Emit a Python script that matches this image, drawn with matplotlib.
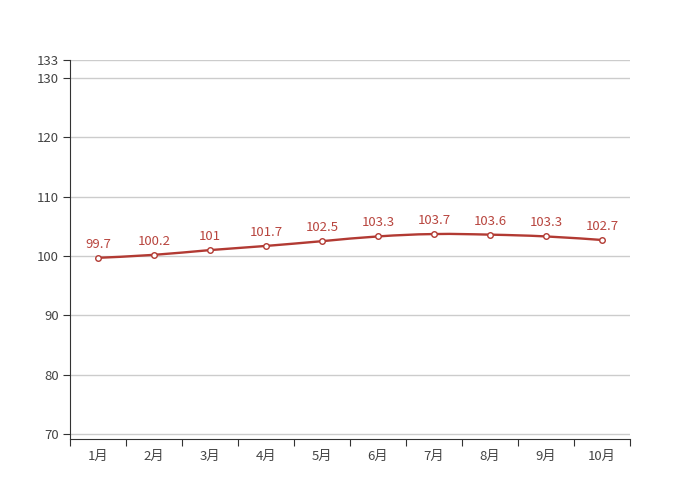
import matplotlib
matplotlib.use('Agg')
import matplotlib.pyplot as plt
from matplotlib.path import Path
from matplotlib.patches import PathPatch

plt.rcParams['font.family'] = ['Noto Sans CJK SC', 'DejaVu Sans']

months = ['1月', '2月', '3月', '4月', '5月', '6月', '7月', '8月', '9月', '10月']
values = [99.7, 100.2, 101, 101.7, 102.5, 103.3, 103.7, 103.6, 103.3, 102.7]
y_ticks = [70, 80, 90, 100, 110, 120, 130, 133]

line_color = '#b23a33'

fig = plt.figure(figsize=(7, 5), dpi=100)
ax = fig.add_axes([0.1, 0.122, 0.8, 0.758])

xs = list(range(len(values)))

# smooth line through the points with cubic bezier segments
verts = [(xs[0], values[0])]
codes = [Path.MOVETO]
k = 0.2
for i in range(len(values) - 1):
    p0 = (xs[max(i - 1, 0)], values[max(i - 1, 0)])
    p1 = (xs[i], values[i])
    p2 = (xs[i + 1], values[i + 1])
    p3 = (xs[min(i + 2, len(values) - 1)], values[min(i + 2, len(values) - 1)])
    c1 = (p1[0] + (p2[0] - p0[0]) * k, p1[1] + (p2[1] - p0[1]) * k)
    c2 = (p2[0] - (p3[0] - p1[0]) * k, p2[1] - (p3[1] - p1[1]) * k)
    verts += [c1, c2, p2]
    codes += [Path.CURVE4] * 3
ax.add_patch(PathPatch(Path(verts, codes), facecolor='none', edgecolor=line_color, lw=1.7, zorder=3))

ax.plot(xs, values, linestyle='none', marker='o', markersize=4,
        markerfacecolor='white', markeredgecolor=line_color, markeredgewidth=1, zorder=4)

for x, v in zip(xs, values):
    ax.annotate(f'{v:g}', (x, v), xytext=(0, 5), textcoords='offset points',
                ha='center', va='bottom', fontsize=9.5, color='#b8453e')

ax.set_xlim(-0.5, len(values) - 0.5)
ax.set_ylim(69.2, 133)

ax.set_yticks(y_ticks)
ax.set_yticklabels([str(t) for t in y_ticks])
ax.yaxis.grid(True, color='#cccccc', lw=1)
ax.set_axisbelow(True)

ax.set_xticks([i - 0.5 for i in range(len(values) + 1)])
ax.set_xticklabels([])
ax.set_xticks(xs, minor=True)
ax.set_xticklabels(months, minor=True)
ax.tick_params(axis='x', which='minor', length=0, pad=8)
ax.tick_params(axis='x', which='major', length=5, color='#333333', direction='out')
ax.tick_params(axis='y', length=5, color='#333333', pad=3)
ax.tick_params(which='both', labelsize=9.5, labelcolor='#444444')

for s in ['top', 'right']:
    ax.spines[s].set_visible(False)
for s in ['left', 'bottom']:
    ax.spines[s].set_color('#333333')

fig.savefig('out.png', dpi=100)
